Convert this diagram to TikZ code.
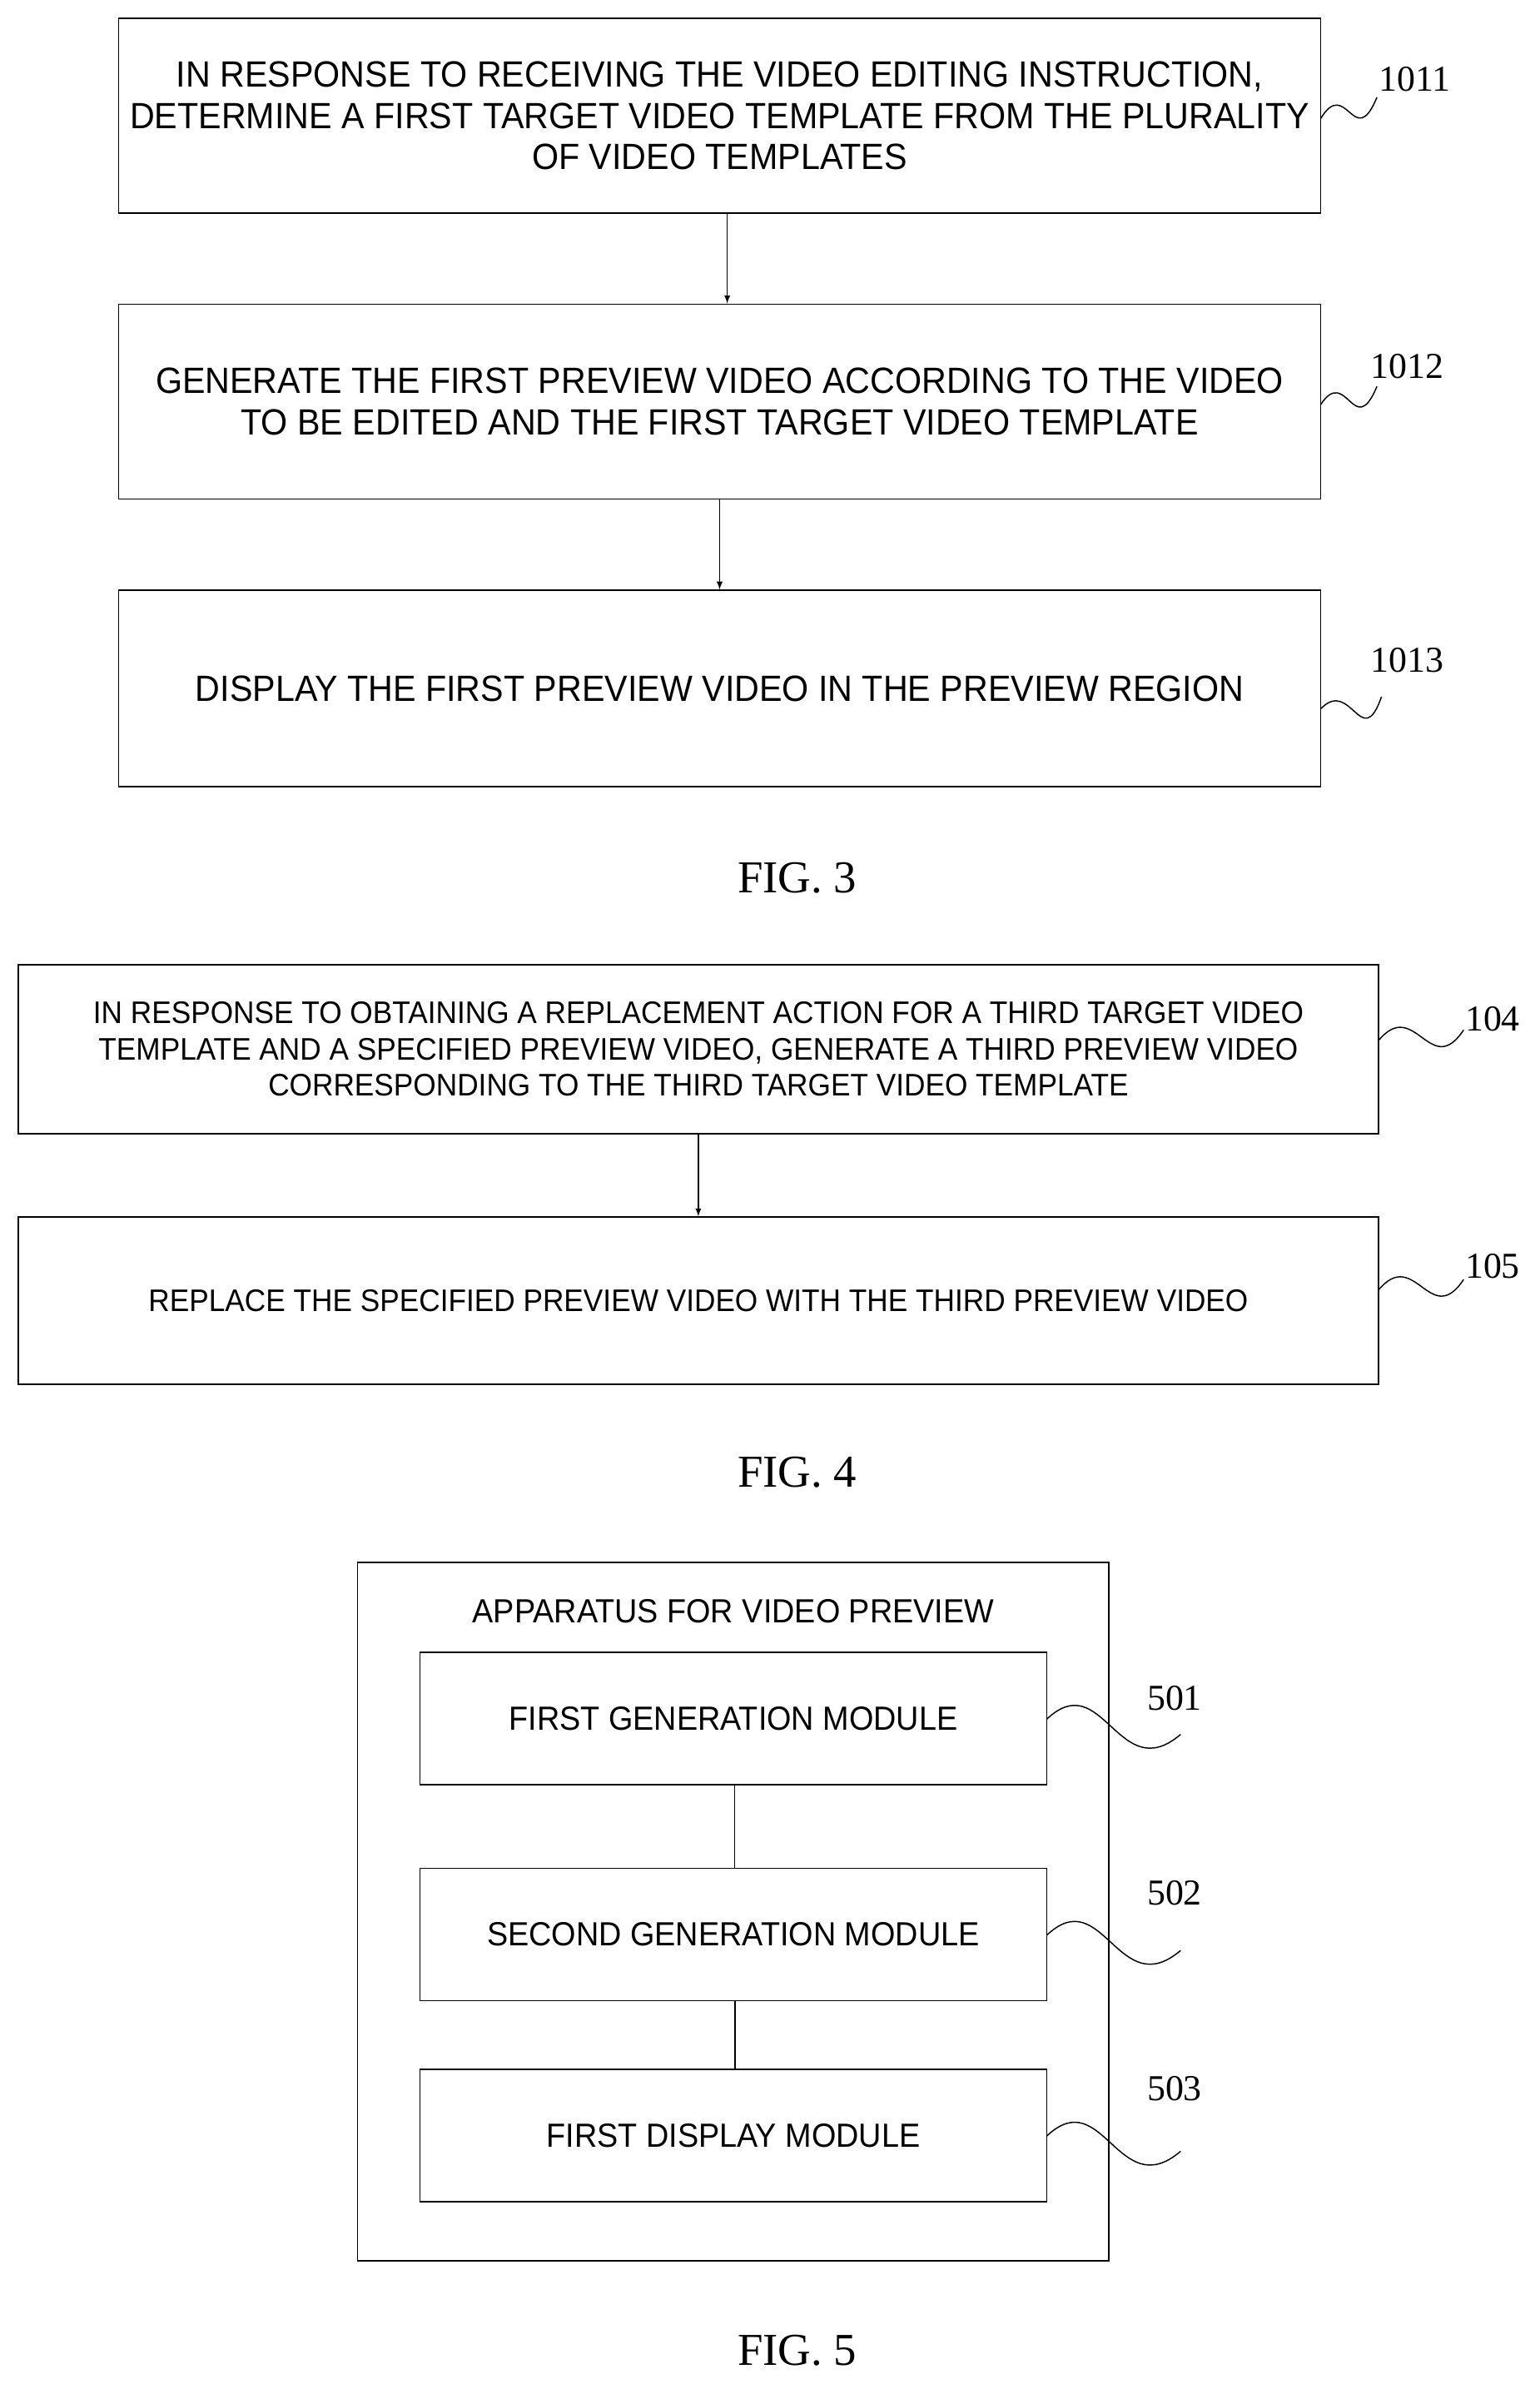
\documentclass[tikz,border=0pt]{standalone}
\usepackage{fontspec}
\setmainfont{Liberation Serif}
\newfontfamily\nar[FakeStretch=0.94]{Liberation Sans}
\begin{document}
\begin{tikzpicture}[x=1pt,y=-1pt,
 box/.style={draw,line width=1pt,inner sep=0pt,align=center},
 t3/.style={font=\nar\fontsize{24}{27}\selectfont},
 t4/.style={font=\nar\fontsize{20.5}{24}\selectfont},
 t5/.style={font=\nar\fontsize{22}{26}\selectfont},
 lab/.style={font=\fontsize{24}{28}\selectfont},
 fig/.style={font=\fontsize{30}{34}\selectfont},
 arr/.style={-latex,line width=0.8pt},
 wave/.style={line width=0.8pt}]
\useasboundingbox (0,0) rectangle (1012,1567);
% FIG 3
\node[box,t3,minimum width=790pt,minimum height=128pt] (b1) at (473,76) {IN RESPONSE TO RECEIVING THE VIDEO EDITING INSTRUCTION,\\DETERMINE A FIRST TARGET VIDEO TEMPLATE FROM THE PLURALITY\\OF VIDEO TEMPLATES};
\node[box,t3,minimum width=790pt,minimum height=128pt] (b2) at (473,264) {GENERATE THE FIRST PREVIEW VIDEO ACCORDING TO THE VIDEO\\TO BE EDITED AND THE FIRST TARGET VIDEO TEMPLATE};
\node[box,t3,minimum width=790pt,minimum height=129pt] (b3) at (473,452.5) {DISPLAY THE FIRST PREVIEW VIDEO IN THE PREVIEW REGION};
\draw[arr] (b1.south-|478,0) -- (b2.north-|478,0);
\draw[arr] (b2.south-|473,0) -- (b3.north-|473,0);
\node[lab] (l1) at (930,52) {1011};
\node[lab] (l2) at (925,241) {1012};
\node[lab] (l3) at (925,434) {1013};
\draw[wave] (868,78) .. controls (885,50) and (890,100) .. (905,64);
\draw[wave] (868,266) .. controls (885,240) and (890,290) .. (905,254);
\draw[wave] (868,466) .. controls (888,445) and (895,495) .. (908,458);
\node[fig] (f3) at (524,577) {FIG. 3};
% FIG 4
\node[box,t4,minimum width=894pt,minimum height=111pt] (c1) at (459,689.5) {IN RESPONSE TO OBTAINING A REPLACEMENT ACTION FOR A THIRD TARGET VIDEO\\TEMPLATE AND A SPECIFIED PREVIEW VIDEO, GENERATE A THIRD PREVIEW VIDEO\\CORRESPONDING TO THE THIRD TARGET VIDEO TEMPLATE};
\node[box,t4,minimum width=894pt,minimum height=110pt] (c2) at (459,855) {REPLACE THE SPECIFIED PREVIEW VIDEO WITH THE THIRD PREVIEW VIDEO};
\draw[arr] (c1) -- (c2);
\node[lab] (l4) at (981,670) {104};
\node[lab] (l5) at (981,832) {105};
\draw[wave] (906,684) .. controls (930,655) and (940,710) .. (962,677);
\draw[wave] (906,848) .. controls (930,819) and (940,874) .. (962,841);
\node[fig] (f4) at (524,968) {FIG. 4};
% FIG 5
\node[draw,line width=1pt,minimum width=494pt,minimum height=459pt,inner sep=0pt] (o) at (482,1256.5) {};
\node[t5] (ti) at (482,1059) {APPARATUS FOR VIDEO PREVIEW};
\node[box,t5,minimum width=412pt,minimum height=87pt] (m1) at (482,1129.5) {FIRST GENERATION MODULE};
\node[box,t5,minimum width=412pt,minimum height=87pt] (m2) at (482,1271.5) {SECOND GENERATION MODULE};
\node[box,t5,minimum width=412pt,minimum height=87pt] (m3) at (482,1403.5) {FIRST DISPLAY MODULE};
\draw[line width=0.5pt] (m1.south-|483,0) -- (m2.north-|483,0);
\draw[line width=1.2pt] (m2.south-|483,0) -- (m3.north-|483,0);
\node[lab] (l6) at (772,1116) {501};
\node[lab] (l7) at (772,1244) {502};
\node[lab] (l8) at (772,1373) {503};
\draw[wave] (688,1130) .. controls (725,1095) and (735,1175) .. (776,1140);
\draw[wave] (688,1272) .. controls (725,1237) and (735,1317) .. (776,1282);
\draw[wave] (688,1404) .. controls (725,1369) and (735,1449) .. (776,1414);
\node[fig] (f5) at (524,1545) {FIG. 5};
\end{tikzpicture}
\end{document}
